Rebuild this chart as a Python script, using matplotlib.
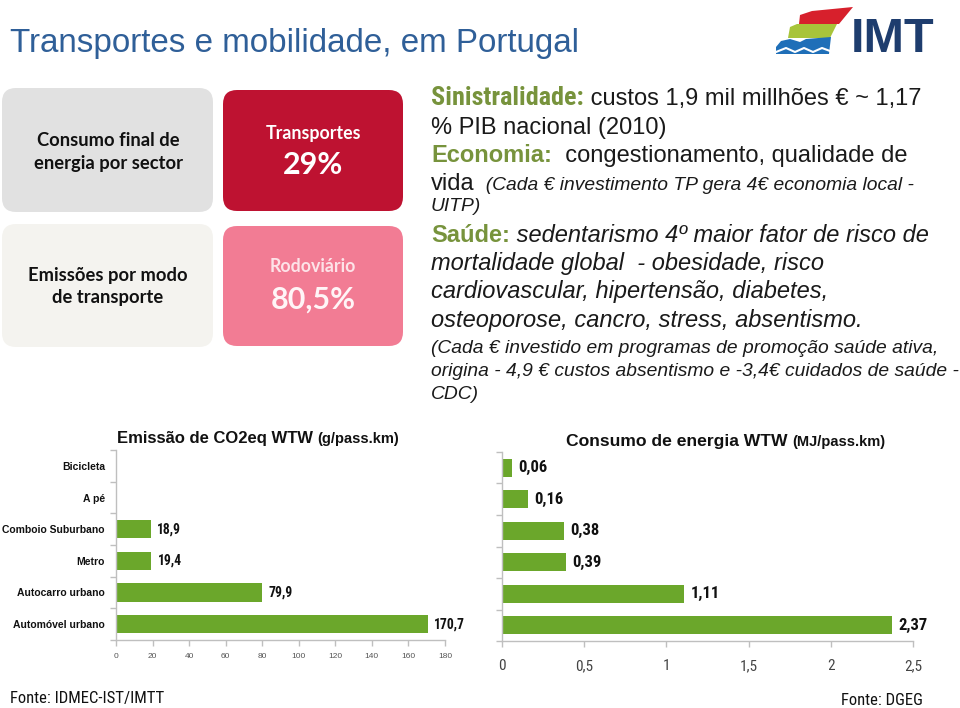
import os
import matplotlib
matplotlib.use('Agg')
import matplotlib.pyplot as plt
import numpy as np
from matplotlib.patches import FancyBboxPatch, Polygon
from matplotlib import font_manager
from matplotlib.font_manager import FontProperties

# ---------------- data ----------------
modes = ['Bicicleta', 'A pé', 'Comboio Suburbano', 'Metro', 'Autocarro urbano', 'Automóvel urbano']
co2_values = [0, 0, 18.9, 19.4, 79.9, 170.7]
co2_labels = ['', '', '18,9', '19,4', '79,9', '170,7']
co2_ticks = [0, 20, 40, 60, 80, 100, 120, 140, 160, 180]
energy_values = [0.06, 0.16, 0.38, 0.39, 1.11, 2.37]
energy_labels = ['0,06', '0,16', '0,38', '0,39', '1,11', '2,37']
energy_ticks = [0, 0.5, 1, 1.5, 2, 2.5]
energy_ticklabels = ['0', '0,5', '1', '1,5', '2', '2,5']
share_transport = '29%'
share_road = '80,5%'

names = {f.name for f in font_manager.fontManager.ttflist}
files = {os.path.basename(f.fname).lower(): f.fname for f in font_manager.fontManager.ttflist}
SANS = 'Liberation Sans'
BOXF = 'Lato' if 'Lato' in names else 'DejaVu Sans'


def pick(cands):
    for c in cands:
        if c in files:
            return files[c]
    return None

NARROW_REG = pick(['liberationsansnarrow-regular.ttf', 'arialn.ttf', 'robotocondensed-regular.ttf'])
NARROW_BOLD = pick(['liberationsansnarrow-bold.ttf', 'arialnb.ttf', 'robotocondensed-bold.ttf'])
HAVE_NARROW = NARROW_REG is not None and NARROW_BOLD is not None


def nfont(size, bold=False):
    if HAVE_NARROW:
        return FontProperties(fname=NARROW_BOLD if bold else NARROW_REG, size=size)
    return FontProperties(family=SANS, weight='bold' if bold else 'normal', size=size * 0.86)

GREEN_BAR = '#6BA72B'
GREEN_TXT = '#77933C'
BODY = '#1a1a1a'
AXGRAY = '#BFBFBF'

fig = plt.figure(figsize=(9.6, 7.08), dpi=100)
fig.patch.set_facecolor('white')
bg = fig.add_axes([0, 0, 1, 1], zorder=0)
bg.set_xlim(0, 960)
bg.set_ylim(708, 0)
bg.axis('off')
renderer = fig.canvas.get_renderer()

# ---------------- title ----------------
bg.text(10, 52, 'Transportes e mobilidade, em Portugal', fontsize=23.9, family=SANS,
        color='#2F5F98', va='baseline', ha='left')

# ---------------- logo ----------------
bg.add_patch(Polygon([(800, 15), (812, 11), (853, 7), (839, 24), (799, 24)], closed=True,
                     facecolor='#D7202C', edgecolor='none'))
bg.add_patch(Polygon([(790, 27), (797, 24), (837, 24), (830, 38), (788, 38)], closed=True,
                     facecolor='#A8C43A', edgecolor='none'))
bg.add_patch(Polygon([(776, 47), (781, 41), (790, 39), (800, 42), (806, 39), (831, 37),
                      (829, 54), (776, 54)], closed=True, facecolor='#1F6FB8', edgecolor='none'))
bg.plot([776, 786, 795, 804, 813, 822, 830], [52, 48, 52, 48, 52, 48, 51], color='white', lw=1.5)
bg.text(851, 52, 'IMT', fontsize=35, fontweight='bold', family=SANS, color='#1E3D6E',
        va='baseline', ha='left')

# ---------------- boxes ----------------
def rbox(x0, y0, x1, y1, color):
    bg.add_patch(FancyBboxPatch((x0, y0), x1 - x0, y1 - y0,
                                boxstyle='round,pad=0,rounding_size=14',
                                facecolor=color, edgecolor='none'))

rbox(2, 88, 213, 212, '#E1E1E1')
rbox(223, 90, 403, 211, '#BE1231')
rbox(2, 224, 213, 347, '#F4F3EF')
rbox(223, 226, 403, 346, '#F27C94')

BOXKW = dict(fontsize=13.2, fontweight='bold', family=BOXF, ha='center', va='center')
bg.text(108, 141, 'Consumo final de', color='#111111', **BOXKW)
bg.text(108, 163, 'energia por sector', color='#111111', **BOXKW)
bg.text(108, 275, 'Emissões por modo', color='#111111', **BOXKW)
bg.text(108, 298, 'de transporte', color='#111111', **BOXKW)
bg.text(313, 133, 'Transportes', fontsize=12.8, fontweight='bold', family=BOXF,
        color='white', ha='center', va='center')
bg.text(313, 165, share_transport, fontsize=22, fontweight='bold', family=BOXF,
        color='white', ha='center', va='center')
bg.text(313, 267, 'Rodoviário', fontsize=12.8, fontweight='bold', family=BOXF,
        color='#FDE3E8', ha='center', va='center')
bg.text(313, 300, share_road, fontsize=22, fontweight='bold', family=BOXF,
        color='#FFF5F7', ha='center', va='center')

# ---------------- text block ----------------
def runs(x, y, parts):
    for s, kw in parts:
        t = bg.text(x, y, s, va='baseline', ha='left', **kw)
        bb = t.get_window_extent(renderer=renderer)
        x += bb.width

MAIN = dict(fontsize=17, family=SANS, color=BODY)
MAIN_I = dict(fontsize=17, family=SANS, color=BODY, style='italic')
SMALL_I = dict(fontsize=13.9, family=SANS, color=BODY, style='italic')
GB = dict(fontsize=17, family=SANS, color=GREEN_TXT, fontweight='bold')
if HAVE_NARROW:
    GB_N = dict(fontproperties=FontProperties(fname=NARROW_BOLD, size=18.8), color=GREEN_TXT)
else:
    GB_N = dict(fontsize=15.3, family=SANS, color=GREEN_TXT, fontweight='bold')

runs(431, 105, [('Sinistralidade:', GB_N), (' custos 1,9 mil millhões € ~ 1,17', MAIN)])
runs(431, 134, [('% PIB nacional (2010)', MAIN)])
runs(431, 162, [('Economia:', GB), ('  congestionamento, qualidade de', MAIN)])
runs(431, 190, [('vida', MAIN), ('  (Cada € investimento TP gera 4€ economia local -', SMALL_I)])
runs(431, 211, [('UITP)', SMALL_I)])
runs(431, 242, [('Saúde:', GB), (' sedentarismo 4º maior fator de risco de', MAIN_I)])
runs(431, 270, [('mortalidade global  - obesidade, risco', MAIN_I)])
runs(431, 298, [('cardiovascular, hipertensão, diabetes,', MAIN_I)])
runs(431, 327, [('osteoporose, cancro, stress, absentismo.', MAIN_I)])
runs(431, 353, [('(Cada € investido em programas de promoção saúde ativa,', SMALL_I)])
runs(431, 376, [('origina - 4,9 € custos absentismo e -3,4€ cuidados de saúde -', SMALL_I)])
runs(431, 399, [('CDC)', SMALL_I)])

# ---------------- charts ----------------
def ax_at(x0, y0, x1, y1):
    return fig.add_axes([x0 / 960, 1 - y1 / 708, (x1 - x0) / 960, (y1 - y0) / 708], zorder=2)

def style_axes(ax):
    ax.patch.set_alpha(0)
    for s in ('top', 'right'):
        ax.spines[s].set_visible(False)
    for s in ('left', 'bottom'):
        ax.spines[s].set_color(AXGRAY)
        ax.spines[s].set_linewidth(1)
    ax.tick_params(axis='y', which='major', length=0)
    ax.tick_params(axis='y', which='minor', length=4, color=AXGRAY, width=1)
    ax.tick_params(axis='x', which='major', length=4, color=AXGRAY, width=1)

ypos = np.arange(len(modes))

# left chart
ax1 = ax_at(116, 450, 445, 640)
ax1.barh(ypos, co2_values, height=0.57, color=GREEN_BAR)
ax1.set_xlim(0, 180)
ax1.set_ylim(len(modes) - 0.5, -0.5)
ax1.set_yticks(ypos)
ax1.set_yticklabels(modes, fontsize=7.5, fontweight='bold', family=SANS, color='#111111')
ax1.set_yticks(np.arange(len(modes) + 1) - 0.5, minor=True)
ax1.set_xticks(co2_ticks)
ax1.set_xticklabels([str(v) for v in co2_ticks], fontsize=6, family=SANS, color='#555555')
style_axes(ax1)
ax1.tick_params(axis='y', which='major', pad=8)
ax1.tick_params(axis='x', pad=5)
for yi, v, lab in zip(ypos, co2_values, co2_labels):
    if lab:
        ax1.annotate(lab, (v, yi), xytext=(4.5, 0), textcoords='offset points', va='center',
                     ha='left', fontproperties=nfont(9.8, bold=True), color='#111111')

runs(117, 443, [('Emissão de CO2eq WTW ', dict(fontsize=12, fontweight='bold', family=SANS, color='#111111')),
                ('(g/pass.km)', dict(fontsize=10.5, fontweight='bold', family=SANS, color='#111111'))])

# right chart
ax2 = ax_at(502, 452, 913, 641)
ax2.barh(ypos, energy_values, height=0.57, color=GREEN_BAR)
ax2.set_xlim(0, 2.5)
ax2.set_ylim(len(modes) - 0.5, -0.5)
ax2.set_yticks([])
ax2.set_yticks(np.arange(len(modes) + 1) - 0.5, minor=True)
ax2.set_xticks(energy_ticks)
ax2.set_xticklabels(energy_ticklabels, color='#444444')
for lbl in ax2.get_xticklabels():
    lbl.set_fontproperties(nfont(11))
style_axes(ax2)
ax2.tick_params(axis='x', pad=9)
for yi, v, lab in zip(ypos, energy_values, energy_labels):
    ax2.annotate(lab, (v, yi), xytext=(4.5, 0), textcoords='offset points', va='center',
                 ha='left', fontproperties=nfont(12, bold=True), color='#111111')

runs(566, 446, [('Consumo de energia WTW ', dict(fontsize=12.6, fontweight='bold', family=SANS, color='#111111')),
                ('(MJ/pass.km)', dict(fontsize=10.5, fontweight='bold', family=SANS, color='#111111'))])

# sources
bg.text(10, 703, 'Fonte: IDMEC-IST/IMTT', fontproperties=nfont(12), color='#111111',
        va='baseline', ha='left')
bg.text(923, 705, 'Fonte: DGEG', fontproperties=nfont(12), color='#111111',
        va='baseline', ha='right')

fig.savefig('out.png', dpi=100, facecolor='white')
